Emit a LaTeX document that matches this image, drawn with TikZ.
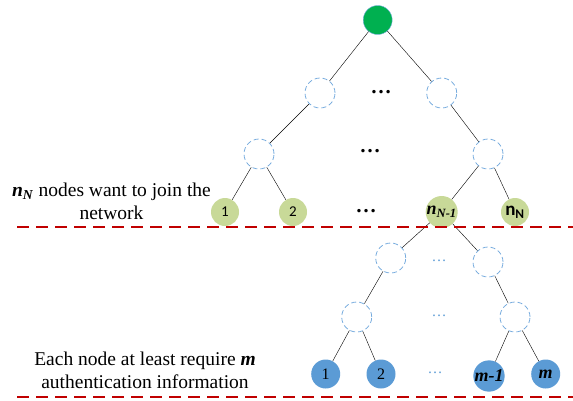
\documentclass[tikz,border=0pt]{standalone}
\usepackage{fontspec}
\setmainfont{Liberation Serif}
\newfontfamily\calibri{Carlito}
\usetikzlibrary{positioning}
\definecolor{rootgreen}{RGB}{0,176,80}
\definecolor{leafgreen}{RGB}{200,217,152}
\definecolor{authblue}{RGB}{91,155,213}
\definecolor{hidblue}{RGB}{120,172,222}
\definecolor{linered}{RGB}{192,0,0}

\begin{document}
\begin{tikzpicture}[x=1pt,y=-1pt,
    vtx/.style={circle,inner sep=0pt,minimum size=29pt},
    hid/.style={vtx,minimum size=30pt,draw=hidblue,line width=0.8pt,dash pattern=on 5pt off 3pt},
    joinleaf/.style={vtx,minimum size=28pt,fill=leafgreen},
    authleaf/.style={vtx,fill=authblue},
    sepline/.style={linered,line width=2.4pt,dash pattern=on 12pt off 7pt},
    txt/.style={align=center,inner sep=0pt,font=\fontsize{19.5}{23}\selectfont},
    bigdots/.style={font=\fontsize{21}{21}\selectfont\bfseries},
    smalldots/.style={text=authblue,font=\fontsize{15}{15}\selectfont}]
\useasboundingbox (0,0) rectangle (573,400);
% upper tree
\node[vtx,fill=rootgreen,draw=hidblue] (root) at (377.7,20) {};
\node[hid] (a1) at (320,93) {};
\node[hid] (a2) at (441.7,93) {};
\node[bigdots] (adots) at (381,92) {\dots};
\node[hid] (b1) at (259,154) {};
\node[hid] (b2) at (488,154) {};
\node[bigdots] (bdots) at (370,151) {\dots};
\node[joinleaf,font=\calibri\fontsize{15}{15}\selectfont] (u1) at (225,212) {1};
\node[joinleaf,font=\calibri\fontsize{15}{15}\selectfont] (u2) at (293,212) {2};
\node[bigdots] (udots) at (366,211) {\dots};
\node[joinleaf,font=\fontsize{18}{18}\selectfont] (uN1) at (441.7,212) {\textbf{\textit{n}}\textsubscript{\textbf{\textit{N-1}}}};
\node[joinleaf,font=\calibri\fontsize{19}{19}\selectfont] (uN) at (515,212) {\textbf{n}\textsubscript{\textbf{N}}};
% lower tree
\node[hid] (c1) at (390.7,258) {};
\node[hid] (c2) at (488,262) {};
\node[smalldots] (cdots) at (439,261) {\dots};
\node[hid] (d1) at (356.7,317) {};
\node[hid] (d2) at (515,317) {};
\node[smalldots] (ddots) at (439,316) {\dots};
\node[authleaf,font=\fontsize{16}{16}\selectfont] (v1) at (325.7,374) {1};
\node[authleaf,font=\fontsize{16}{16}\selectfont] (v2) at (381,374) {2};
\node[smalldots] (vdots) at (435,373) {\dots};
\node[authleaf,font=\fontsize{18}{18}\selectfont\bfseries\itshape] (vm1) at (489,376) {m-1};
\node[authleaf,font=\fontsize{18}{18}\selectfont\bfseries\itshape] (vm) at (545.7,374) {m};
% edges
\draw (root) -- (a1) (root) -- (a2)
      (a1) -- (b1) (a2) -- (b2)
      (b1) -- (u1) (b1) -- (u2)
      (b2) -- (uN1) (b2) -- (uN)
      (uN1) -- (c1) (uN1) -- (c2)
      (c1) -- (d1) (c2) -- (d2)
      (d1) -- (v1) (d1) -- (v2)
      (d2) -- (vm1) (d2) -- (vm);
% labels
\node[txt] (joinlbl) at (111.5,201) {\textbf{\textit{n}}\textsubscript{\textbf{\textit{N}}} nodes want to join the\\network};
\node[txt] (authlbl) at (145,370.5) {Each node at least require \textbf{\textit{m}}\\authentication information};
% separators
\coordinate (s1) at (17,227);
\coordinate (e1) at (573,227);
\coordinate (s2) at (17,397);
\coordinate (e2) at (573,397);
\draw[sepline] (s1) -- (e1) (s2) -- (e2);
\end{tikzpicture}
\end{document}
